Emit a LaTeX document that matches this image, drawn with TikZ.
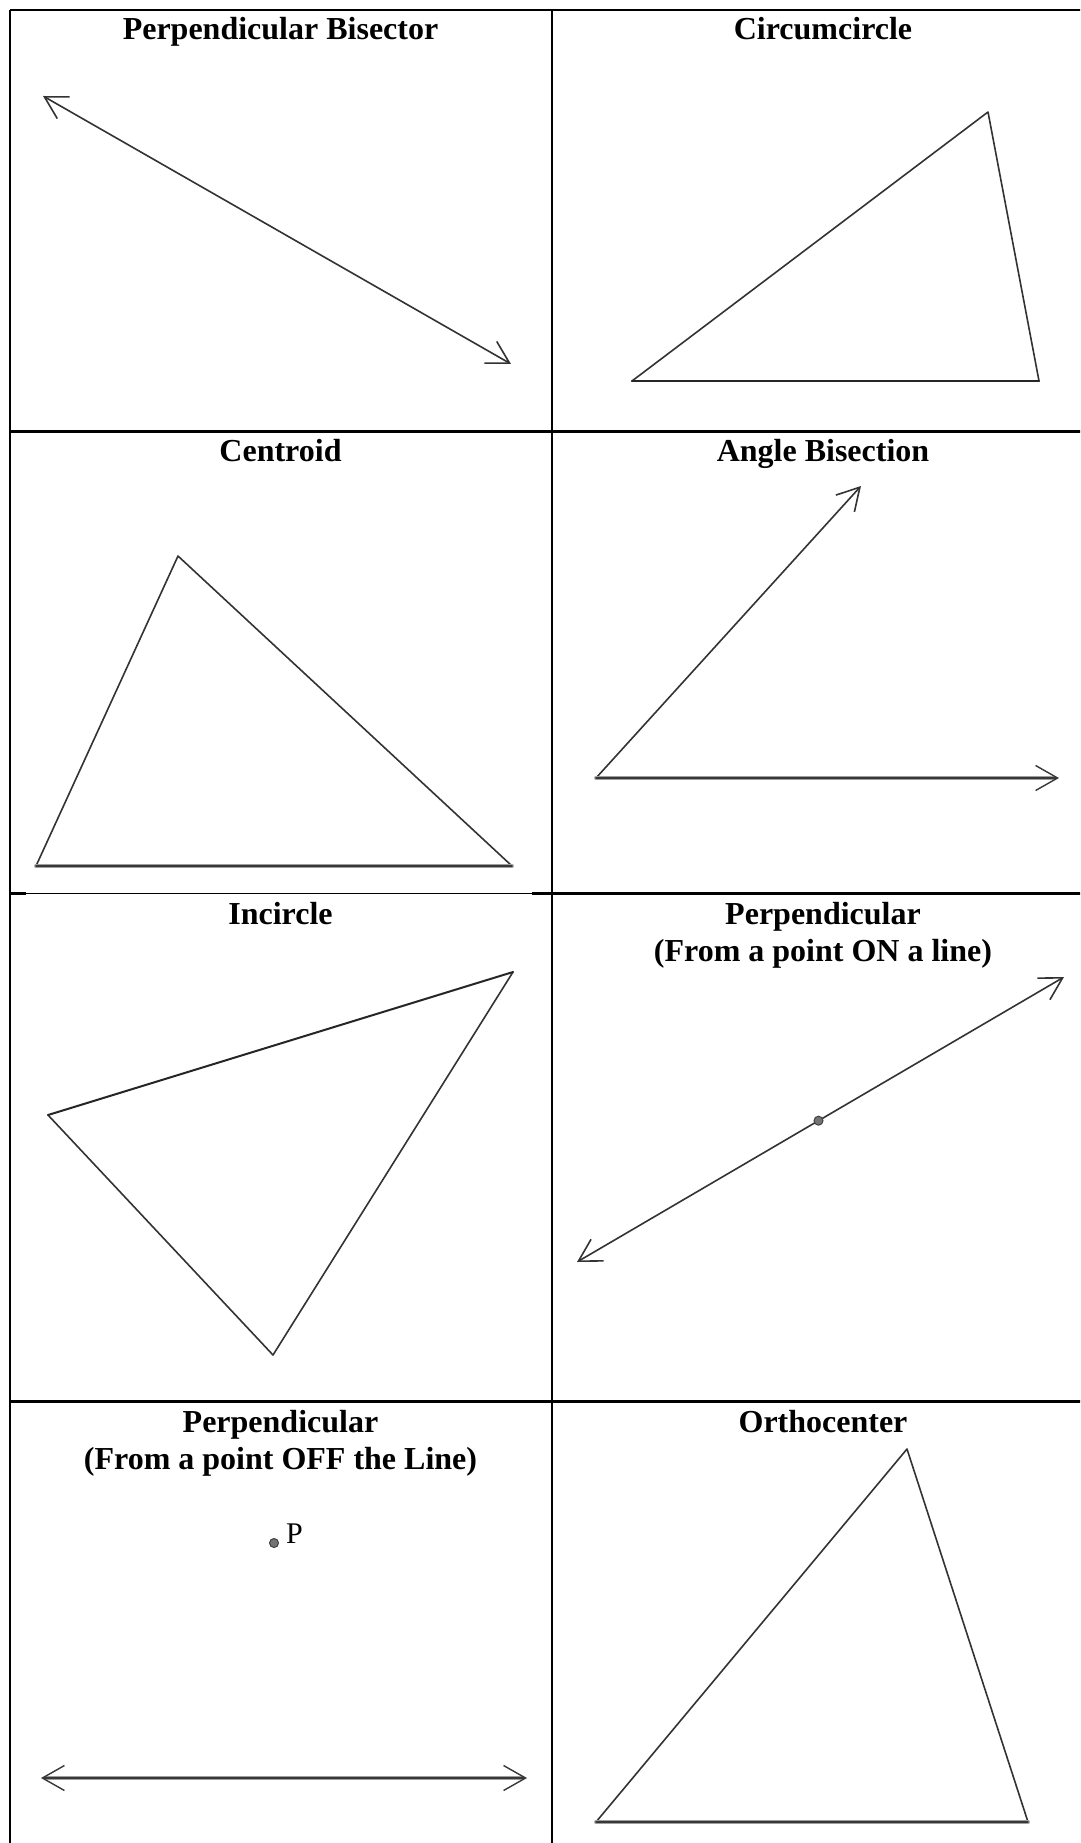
\documentclass[tikz,border=0pt]{standalone}
\usepackage{fontspec}
\setmainfont{Liberation Serif}
\usetikzlibrary{arrows.meta,calc}
\begin{document}
\begin{tikzpicture}[x=1pt,y=-1pt,
  title/.style={font=\fontsize{32}{36}\selectfont\bfseries, anchor=base, inner sep=0pt},
  plab/.style={font=\fontsize{30}{34}\selectfont, anchor=base west, inner sep=0pt},
  rulev/.style={line width=2pt, black},
  ruleh/.style={line width=3pt, black},
  ruleth/.style={line width=1.5pt, black},
  geo/.style={line width=1.6pt, black!80, line join=round, line cap=round},
  softunder/.style={line width=3.8pt, black!38, line cap=round},
  softcore/.style={line width=1.4pt, black!78, line cap=round},
  barbtip/.style={-{Straight Barb[length=22pt,width=25pt]}},
  twoway/.style={{Straight Barb[length=22pt,width=25pt]}-{Straight Barb[length=22pt,width=25pt]}},
  ptdot/.style={circle, fill=black!55, draw=black!75, line width=1pt, minimum size=9pt, inner sep=0pt}
]
\useasboundingbox (0,0) rectangle (1080,1843);
\clip (0,0) rectangle (1080,1843);
\fill[white] (0,0) rectangle (1080,1843);

% ---------- table rules ----------
\coordinate (tl) at (10,10);
\coordinate (tr) at (1095,10);
\coordinate (bl) at (10,1860);
\coordinate (br) at (1095,1860);
\draw[rulev] (tl) -- (tr);
\draw[rulev] (tl) -- (bl);
\draw[rulev] (tr) -- (br);
\draw[rulev] (bl) -- (br);
\coordinate (vtop) at (551.5,10);
\coordinate (vbot) at (551.5,1860);
\draw[rulev] (vtop) -- (vbot);
\coordinate (h1a) at (10,431);
\coordinate (h1b) at (1095,431);
\draw[ruleh] (h1a) -- (h1b);
\coordinate (h2a) at (10,893.5);
\coordinate (h2b) at (26,893.5);
\coordinate (h2c) at (532,893.5);
\coordinate (h2d) at (1095,893.5);
\draw[ruleh] (h2a) -- (h2b);
\draw[ruleth] (h2b) -- (h2c);
\draw[ruleh] (h2c) -- (h2d);
\coordinate (h3a) at (10,1401);
\coordinate (h3b) at (1095,1401);
\draw[ruleh] (h3a) -- (h3b);

% ---------- titles ----------
\node[title] (t1) at (280.5,40) {Perpendicular Bisector};
\node[title] (t2) at (823,40) {Circumcircle};
\node[title] (t3) at (280.5,461) {Centroid};
\node[title] (t4) at (823,461) {Angle Bisection};
\node[title] (t5) at (280.5,924) {Incircle};
\node[title] (t6a) at (823,924) {Perpendicular};
\node[title] (t6b) at (823,961) {(From a point ON a line)};
\node[title] (t7a) at (280.5,1432) {Perpendicular};
\node[title] (t7b) at (280.5,1469) {(From a point OFF the Line)};
\node[title] (t8) at (823,1432) {Orthocenter};

% ---------- cell 1: perpendicular bisector ----------
\coordinate (pbA) at (43,96);
\coordinate (pbB) at (511,364);
\draw[geo, twoway] (pbA) -- (pbB);

% ---------- cell 2: circumcircle ----------
\coordinate (ccT) at (988,112);
\coordinate (ccL) at (632,381);
\coordinate (ccR) at (1039,381);
\draw[geo] (ccL) -- (ccT) -- (ccR);
\draw[geo, line width=2.3pt, black!85] (ccL) -- (ccR);

% ---------- cell 3: centroid ----------
\coordinate (ceT) at (178,556);
\coordinate (ceL) at (36,866);
\coordinate (ceR) at (512,866);
\draw[geo] (ceL) -- (ceT) -- (ceR);
\draw[softunder] (ceL) -- (ceR);
\draw[softcore] (ceL) -- (ceR);

% ---------- cell 4: angle bisection ----------
\coordinate (abV) at (596,778);
\coordinate (abU) at (861,486);
\coordinate (abH) at (1059,778);
\draw[geo, barbtip] (abV) -- (abU);
\draw[softunder] (abV) -- ($(abH)+(-6,0)$);
\draw[softcore, barbtip] (abV) -- (abH);

% ---------- cell 5: incircle ----------
\coordinate (icL) at (48,1115);
\coordinate (icT) at (513,972);
\coordinate (icB) at (273,1355);
\draw[geo] (icL) -- (icB) -- (icT);
\draw[geo, line width=2pt, black!85] (icL) -- (icT);

% ---------- cell 6: perpendicular from a point ON a line ----------
\coordinate (onU) at (1064,977);
\coordinate (onD) at (577,1262);
\draw[geo, twoway] (onD) -- (onU);
\node[ptdot] (onP) at ($(onD)!0.4959!(onU)$) {};

% ---------- cell 7: perpendicular from a point OFF the line ----------
\node[ptdot] (offP) at (274,1543) {};
\node[plab] (offPl) at (286,1543) {P};
\coordinate (offL) at (41,1778);
\coordinate (offR) at (527,1778);
\draw[softunder] ($(offL)+(6,0)$) -- ($(offR)+(-6,0)$);
\draw[softcore, twoway] (offL) -- (offR);

% ---------- cell 8: orthocenter ----------
\coordinate (orT) at (907,1449);
\coordinate (orL) at (596,1822);
\coordinate (orR) at (1028,1822);
\draw[geo] (orL) -- (orT) -- (orR);
\draw[softunder] (orL) -- (orR);
\draw[softcore] (orL) -- (orR);
\end{tikzpicture}
\end{document}
